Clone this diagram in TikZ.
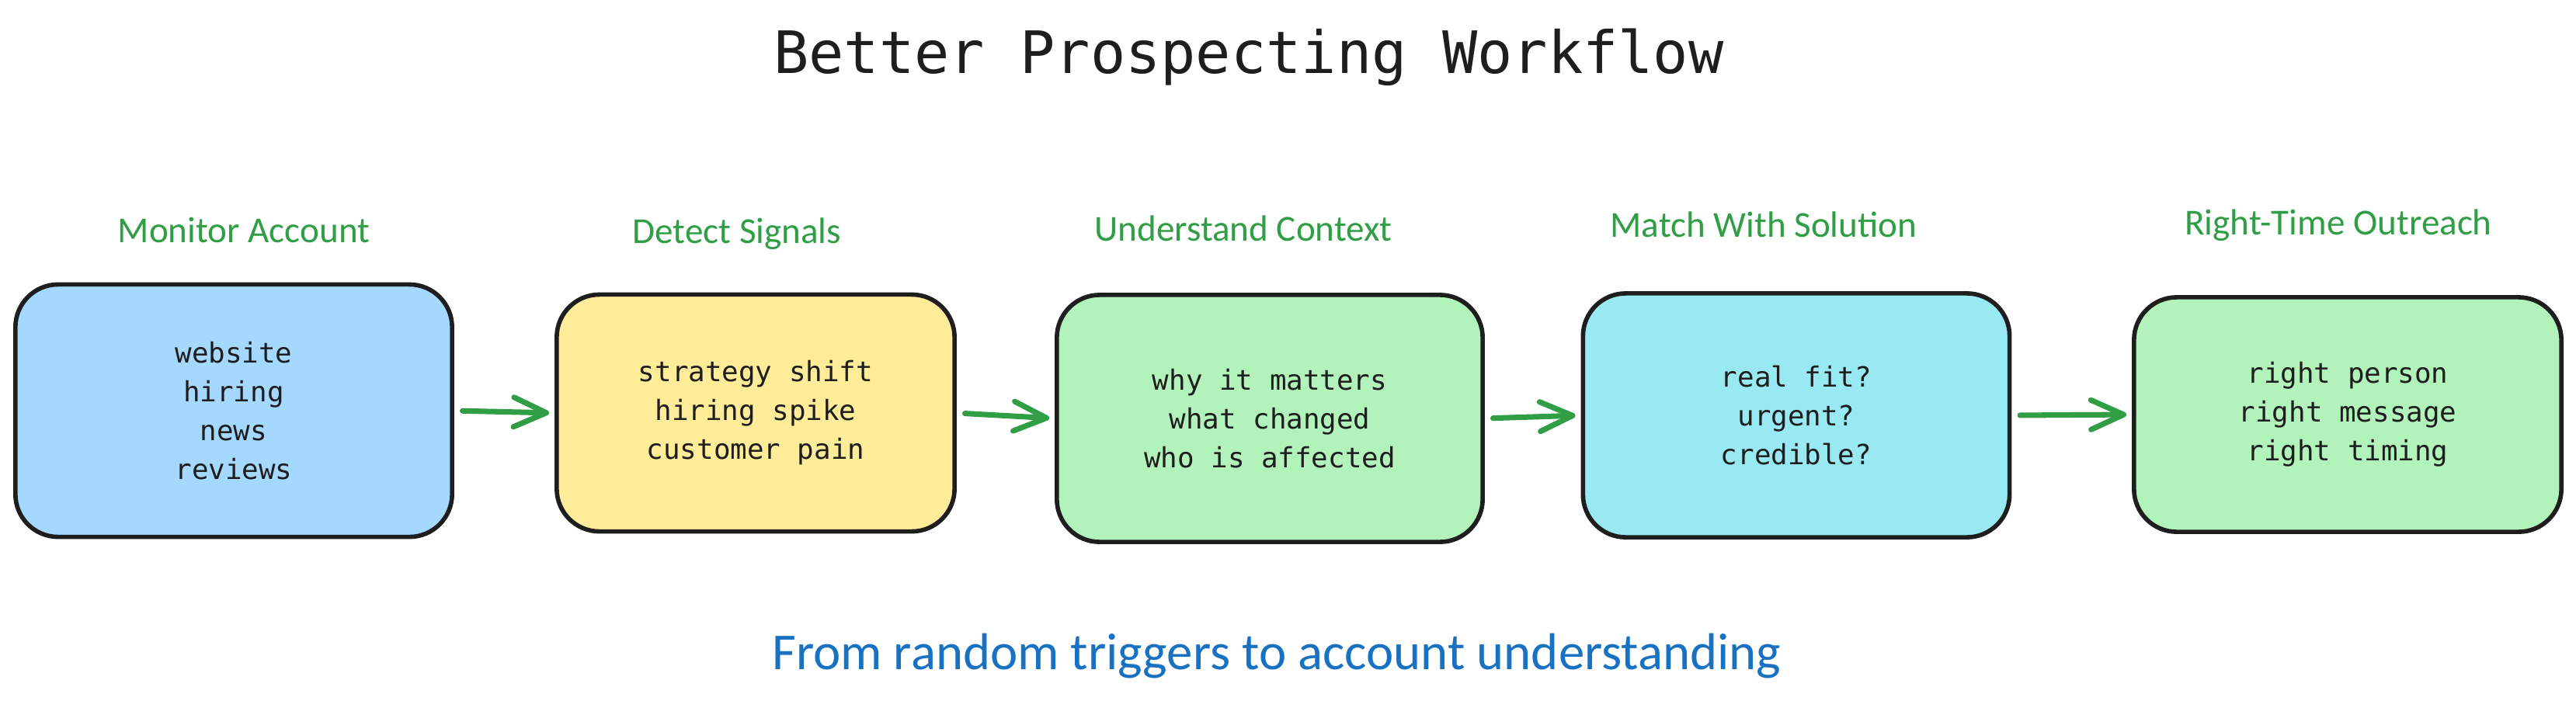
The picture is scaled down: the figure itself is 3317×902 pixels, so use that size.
\documentclass[tikz,border=0pt]{standalone}
\usepackage{fontspec}
\setmainfont{Carlito}
\setmonofont{DejaVu Sans Mono}
\usetikzlibrary{arrows.meta,positioning}
\definecolor{labelgreen}{HTML}{2F9E44}
\definecolor{noteblue}{HTML}{1971C2}
\definecolor{inkdark}{HTML}{1E1E1E}
\definecolor{fillblue}{HTML}{A5D8FF}
\definecolor{fillyellow}{HTML}{FFEC99}
\definecolor{fillgreen}{HTML}{B2F2BB}
\definecolor{fillcyan}{HTML}{99E9F2}

\begin{document}
\begin{tikzpicture}[x=0.01cm, y=-0.01cm,
    stagebox/.style={draw=inkdark, line width=1.6pt, rounded corners=0.55cm, align=center, inner sep=0pt,
        text=inkdark, font=\ttfamily\fontsize{10.2}{14.2}\selectfont},
    stagelabel/.style={anchor=base, text=labelgreen, font=\fontsize{13.4}{16}\selectfont},
    flow/.style={draw=labelgreen, line width=2pt, line cap=round,
        -{Straight Barb[length=0.42cm, width=0.38cm, round]}, shorten <=3pt, shorten >=2pt}]
        % Canvas
        \fill[white] (0,0) rectangle (3317,902);
        \useasboundingbox (0,0) rectangle (3317,902);

        % Title
        \node[anchor=base, text=inkdark, font=\ttfamily\fontsize{21.4}{26}\selectfont] (title) at (1608,94) {Better Prospecting Workflow};

        % Stage boxes
        \node[stagebox, fill=fillblue, minimum width=5.62cm, minimum height=3.25cm] (monitor) at (301,529) {website\\hiring\\news\\reviews};
        \node[stagebox, fill=fillyellow, minimum width=5.12cm, minimum height=3.05cm] (detect) at (973,532) {strategy shift\\hiring spike\\customer pain};
        \node[stagebox, fill=fillgreen, minimum width=5.48cm, minimum height=3.18cm] (context) at (1635,539) {why it matters\\what changed\\who is affected};
        \node[stagebox, fill=fillcyan, minimum width=5.49cm, minimum height=3.14cm] (match) at (2313,535) {real fit?\\urgent?\\credible?};
        \node[stagebox, fill=fillgreen, minimum width=5.50cm, minimum height=3.02cm] (outreach) at (3023,534) {right person\\right message\\right timing};

        % Stage labels
        \node[stagelabel] (monitorlbl) at (314,312) {Monitor Account};
        \node[stagelabel] (detectlbl) at (949,313) {Detect Signals};
        \node[stagelabel] (contextlbl) at (1601,310) {Understand Context};
        \node[stagelabel] (matchlbl) at (2271,305) {Match With Solution};
        \node[stagelabel] (outreachlbl) at (3011,302) {Right-Time Outreach};

        % Flow arrows
        \draw[flow] (monitor.east) -- (detect.west);
        \draw[flow] (detect.east) -- (context.west);
        \draw[flow] (context.east) -- (match.west);
        \draw[flow] (match.east) -- (outreach.west);

        % Tagline
        \node[anchor=base, text=noteblue, font=\fontsize{19}{23}\selectfont] (tagline) at (1644,862) {From random triggers to account understanding};
    \end{tikzpicture}
\end{document}
